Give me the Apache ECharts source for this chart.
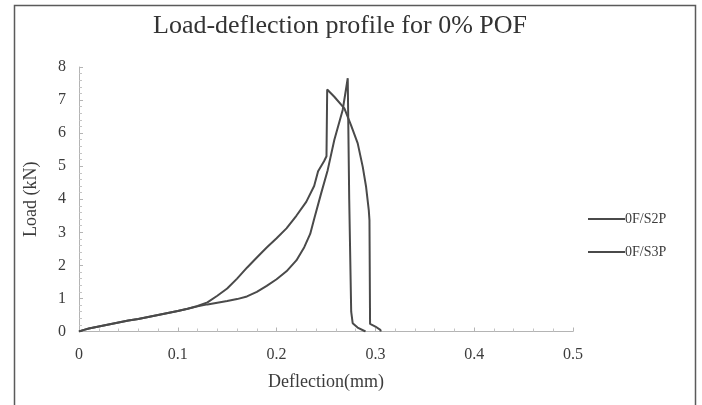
<!DOCTYPE html>
<html>
<head>
<meta charset="utf-8">
<script src="https://cdn.jsdelivr.net/npm/echarts@6/dist/echarts.min.js"></script>
<style>
  html, body { margin: 0; padding: 0; background: #fff; }
  #chart { width: 702px; height: 405px; }
</style>
</head>
<body>
<div id="chart"></div>
<script>
// Series names and axis ticks
const seriesNames = ['0F/S2P', '0F/S3P'];
const xTicks = [0, 0.1, 0.2, 0.3, 0.4, 0.5];
const yTicks = [0, 1, 2, 3, 4, 5, 6, 7, 8];

// 0F/S2P: deflection (mm) and load (kN)
const s2pX = [0, 0.005, 0.01, 0.02, 0.03, 0.04, 0.05, 0.06, 0.07, 0.08, 0.09, 0.1, 0.11, 0.12,
  0.13, 0.14, 0.15, 0.16, 0.17, 0.18, 0.19, 0.2, 0.21, 0.22, 0.23, 0.238, 0.242, 0.248, 0.2505,
  0.2512, 0.2584, 0.2686, 0.2753, 0.2821, 0.2872, 0.2906, 0.2933, 0.294, 0.2946, 0.2955, 0.3, 0.305, 0.3055];
const s2pY = [0, 0.05, 0.09, 0.15, 0.21, 0.27, 0.33, 0.38, 0.44, 0.5, 0.56, 0.62, 0.69, 0.77,
  0.88, 1.08, 1.3, 1.6, 1.93, 2.24, 2.54, 2.82, 3.12, 3.5, 3.92, 4.4, 4.85, 5.15, 5.3,
  7.32, 7.1, 6.75, 6.24, 5.69, 4.98, 4.37, 3.67, 3.36, 0.23, 0.2, 0.15, 0.05, 0];

// 0F/S3P: deflection (mm) and load (kN)
const s3pX = [0, 0.005, 0.01, 0.02, 0.03, 0.04, 0.05, 0.06, 0.07, 0.08, 0.09, 0.1, 0.11, 0.12,
  0.13, 0.14, 0.15, 0.16, 0.17, 0.18, 0.19, 0.2, 0.21, 0.22, 0.228, 0.234, 0.238, 0.245, 0.2517,
  0.2584, 0.2669, 0.272, 0.2735, 0.2755, 0.277, 0.282, 0.29];
const s3pY = [0, 0.05, 0.09, 0.15, 0.21, 0.27, 0.33, 0.38, 0.44, 0.5, 0.56, 0.62, 0.69, 0.76,
  0.82, 0.87, 0.92, 0.98, 1.06, 1.2, 1.38, 1.58, 1.82, 2.15, 2.55, 2.95, 3.4, 4.17, 4.88,
  5.79, 6.7, 7.66, 4.0, 0.6, 0.25, 0.12, 0];

const zip = (xs, ys) => xs.map((x, i) => [x, ys[i]]);
const FONT = '"Liberation Serif", "Times New Roman", serif';
const TEXT = '#3c3c3c';
const LINE = '#4a4a4a';

const chart = echarts.init(document.getElementById('chart'), null, { renderer: 'canvas' });
chart.setOption({
  backgroundColor: '#ffffff',
  animation: false,
  title: {
    text: 'Load-deflection profile for 0% POF',
    left: 335, top: 8, textAlign: 'center',
    textStyle: { fontFamily: FONT, fontSize: 26, fontWeight: 'normal', color: '#333' }
  },
  grid: { left: 79, right: 129, top: 67, bottom: 73.5, containLabel: false },
  legend: {
    data: seriesNames,
    orient: 'vertical',
    left: 583, top: 207,
    icon: 'rect',
    itemWidth: 37, itemHeight: 2, itemGap: 19,
    textStyle: { fontFamily: FONT, fontSize: 14, color: TEXT, padding: [0, 0, 0, -5] }
  },
  xAxis: {
    type: 'value', min: xTicks[0], max: xTicks[xTicks.length - 1], interval: 0.1,
    name: 'Deflection(mm)', nameLocation: 'middle', nameGap: 42,
    nameTextStyle: { fontFamily: FONT, fontSize: 18, color: TEXT },
    axisLine: { lineStyle: { color: '#b4b4b4', width: 1 } },
    axisTick: { show: true, inside: true, length: 4, lineStyle: { color: '#b4b4b4' } },
    minorTick: { show: true, splitNumber: 5, length: 3, lineStyle: { color: '#c4c4c4' } },
    splitLine: { show: false },
    axisLabel: { fontFamily: FONT, fontSize: 16, color: TEXT, margin: 15,
      formatter: v => String(+v.toFixed(1)) }
  },
  yAxis: {
    type: 'value', min: yTicks[0], max: yTicks[yTicks.length - 1], interval: 1,
    name: 'Load (kN)', nameLocation: 'middle', nameGap: 39, nameRotate: 90,
    nameTextStyle: { fontFamily: FONT, fontSize: 18, color: TEXT },
    axisLine: { show: true, lineStyle: { color: '#b4b4b4', width: 1 } },
    axisTick: { show: true, inside: true, length: 4, lineStyle: { color: '#b4b4b4' } },
    minorTick: { show: true, splitNumber: 5, length: 3, lineStyle: { color: '#c4c4c4' } },
    splitLine: { show: false },
    axisLabel: { fontFamily: FONT, fontSize: 16, color: TEXT, margin: 13 }
  },
  graphic: [{
    type: 'rect', silent: true, z: 100,
    shape: { x: 14.5, y: 5.5, width: 681, height: 430 },
    style: { fill: 'none', stroke: '#5a5a5a', lineWidth: 1.5 }
  }],
  series: [
    {
      name: seriesNames[0], type: 'line', data: zip(s2pX, s2pY),
      symbol: 'none', smooth: false,
      lineStyle: { color: LINE, width: 2 }, itemStyle: { color: LINE }
    },
    {
      name: seriesNames[1], type: 'line', data: zip(s3pX, s3pY),
      symbol: 'none', smooth: false,
      lineStyle: { color: LINE, width: 2 }, itemStyle: { color: LINE }
    }
  ]
});
</script>
</body>
</html>
